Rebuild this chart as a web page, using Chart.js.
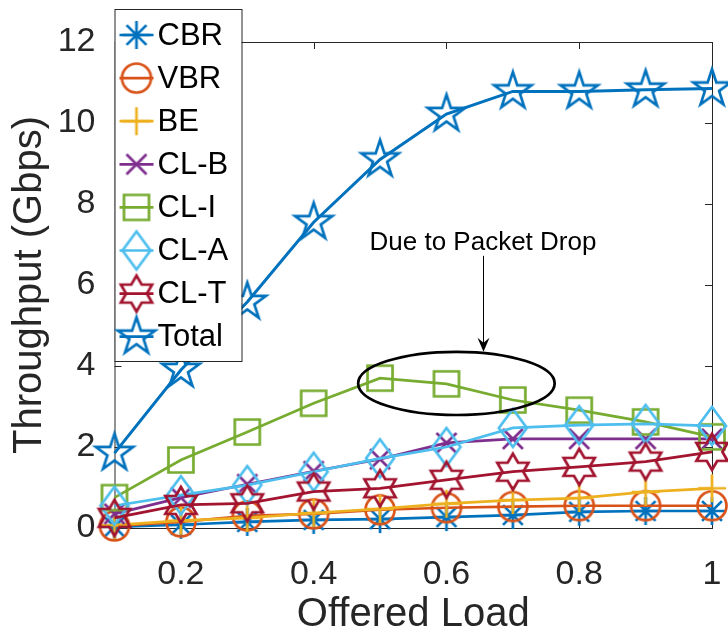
<!DOCTYPE html>
<html>
<head>
<meta charset="utf-8">
<script src="https://cdn.jsdelivr.net/npm/chart.js@4.4.1/dist/chart.umd.min.js"></script>
<style>
  html, body { margin: 0; padding: 0; background: #fff; }
</style>
</head>
<body>
<canvas id="chart" width="728" height="640"></canvas>
<script>
// offered load (x) and throughput per class in Gbps
const offeredLoad = [0.1, 0.2, 0.3, 0.4, 0.5, 0.6, 0.7, 0.8, 0.9, 1.0]
const cbr = [0.03, 0.08, 0.15, 0.2, 0.22, 0.27, 0.32, 0.4, 0.42, 0.42]
const vbr = [0.05, 0.15, 0.3, 0.35, 0.45, 0.5, 0.53, 0.55, 0.55, 0.55]
const be = [0.07, 0.18, 0.25, 0.37, 0.47, 0.6, 0.69, 0.74, 0.89, 0.98]
const clB = [0.35, 0.75, 1.08, 1.4, 1.7, 2.1, 2.2, 2.2, 2.2, 2.2]
const clI = [0.75, 1.68, 2.37, 3.08, 3.7, 3.56, 3.16, 2.91, 2.62, 2.25]
const clA = [0.55, 0.81, 1.06, 1.39, 1.72, 2.0, 2.47, 2.54, 2.57, 2.52]
const clT = [0.25, 0.57, 0.61, 0.9, 0.98, 1.19, 1.39, 1.51, 1.64, 1.88]
const total = [1.85, 3.9, 5.58, 7.55, 9.1, 10.22, 10.78, 10.78, 10.82, 10.85]

const seriesNames = ["CBR", "VBR", "BE", "CL-B", "CL-I", "CL-A", "CL-T", "Total"]
const xTicks = [0.2, 0.4, 0.6, 0.8, 1]
const yTicks = [0, 2, 4, 6, 8, 10, 12]

const FONT = "'Liberation Sans', Arial, Helvetica, sans-serif"
const AXIS_COLOR = "#262626"

// MATLAB style hollow markers drawn on small canvases
function marker(shape, color) {
  const size = 48
  const c = document.createElement("canvas")
  c.width = size
  c.height = size
  const g = c.getContext("2d")
  g.translate(size / 2, size / 2)
  g.strokeStyle = color
  g.lineWidth = 2.7
  g.lineJoin = "miter"
  g.beginPath()
  if (shape === "asterisk") {
    const r = 14
    for (let a = 0; a < 4; a++) {
      const t = a * Math.PI / 4
      g.moveTo(r * Math.cos(t), r * Math.sin(t))
      g.lineTo(-r * Math.cos(t), -r * Math.sin(t))
    }
  } else if (shape === "circle") {
    g.arc(0, 0, 14.5, 0, Math.PI * 2)
  } else if (shape === "plus") {
    g.moveTo(-14, 0); g.lineTo(14, 0)
    g.moveTo(0, -14); g.lineTo(0, 14)
  } else if (shape === "x") {
    const r = 10
    g.moveTo(-r, -r); g.lineTo(r, r)
    g.moveTo(r, -r); g.lineTo(-r, r)
  } else if (shape === "square") {
    g.rect(-12.5, -12.5, 25, 25)
  } else if (shape === "diamond") {
    g.moveTo(0, -19); g.lineTo(14, 0); g.lineTo(0, 19); g.lineTo(-14, 0); g.closePath()
  } else if (shape === "hexagram") {
    const R = 18, ri = R / Math.sqrt(3)
    for (let k = 0; k < 12; k++) {
      const rad = k % 2 === 0 ? R : ri
      const t = -Math.PI / 2 + k * Math.PI / 6
      if (k === 0) g.moveTo(rad * Math.cos(t), rad * Math.sin(t))
      else g.lineTo(rad * Math.cos(t), rad * Math.sin(t))
    }
    g.closePath()
  } else if (shape === "pentagram") {
    const R = 19.5, ri = R * 0.382
    for (let k = 0; k < 10; k++) {
      const rad = k % 2 === 0 ? R : ri
      const t = -Math.PI / 2 + k * Math.PI / 5
      if (k === 0) g.moveTo(rad * Math.cos(t), rad * Math.sin(t))
      else g.lineTo(rad * Math.cos(t), rad * Math.sin(t))
    }
    g.closePath()
  }
  g.stroke()
  return c
}

const colors = ["#0072BD", "#D95319", "#EDB120", "#7E2F8E", "#77AC30", "#4DBEEE", "#A2142F", "#0072BD"]
const shapes = ["asterisk", "circle", "plus", "x", "square", "diamond", "hexagram", "pentagram"]
const values = [cbr, vbr, be, clB, clI, clA, clT, total]
const markers = shapes.map((s, i) => marker(s, colors[i]))

const datasets = values.map((vals, i) => ({
  label: seriesNames[i],
  data: vals.map((v, j) => ({ x: offeredLoad[j], y: v })),
  borderColor: colors[i],
  borderWidth: i === 7 ? 3 : 2.7,
  pointStyle: markers[i],
  pointRadius: 10,
  fill: false,
  tension: 0,
  clip: false,
  order: values.length - i
}))

// annotation in data units
const noteText = "Due to Packet Drop"
const ellipseCenter = { x: 0.615, y: 3.57 }
const ellipseRadius = { x: 0.148, y: 0.78 }
const arrowX = 0.655, arrowFrom = 6.72, arrowTo = 4.35
const notePos = { x: 0.655, y: 7.05 }

const axesBox = {
  id: "axesBox",
  beforeDatasetsDraw(chart) {
    const { ctx, chartArea: a, scales } = chart
    ctx.save()
    ctx.strokeStyle = AXIS_COLOR
    ctx.lineWidth = 1
    ctx.strokeRect(a.left + 0.5, a.top + 0.5, a.right - a.left, a.bottom - a.top)
    ctx.beginPath()
    const tl = 7
    xTicks.forEach(v => {
      const px = Math.round(scales.x.getPixelForValue(v)) + 0.5
      ctx.moveTo(px, a.bottom); ctx.lineTo(px, a.bottom - tl)
      ctx.moveTo(px, a.top); ctx.lineTo(px, a.top + tl)
    })
    yTicks.forEach(v => {
      const py = Math.round(scales.y.getPixelForValue(v)) + 0.5
      ctx.moveTo(a.left, py); ctx.lineTo(a.left + tl, py)
      ctx.moveTo(a.right, py); ctx.lineTo(a.right - tl, py)
    })
    ctx.stroke()
    ctx.restore()
  }
}

const annotation = {
  id: "annotation",
  afterDatasetsDraw(chart) {
    const { ctx, scales } = chart
    const xs = scales.x, ys = scales.y
    ctx.save()
    // ellipse
    const cx = xs.getPixelForValue(ellipseCenter.x)
    const cy = ys.getPixelForValue(ellipseCenter.y)
    const rx = xs.getPixelForValue(ellipseCenter.x + ellipseRadius.x) - cx
    const ry = cy - ys.getPixelForValue(ellipseCenter.y + ellipseRadius.y)
    ctx.strokeStyle = "#000"
    ctx.lineWidth = 2.7
    ctx.beginPath()
    ctx.ellipse(cx, cy, rx, ry, 0, 0, Math.PI * 2)
    ctx.stroke()
    // arrow
    const ax = Math.round(xs.getPixelForValue(arrowX)) + 0.5
    const y0 = ys.getPixelForValue(arrowFrom)
    const y1 = ys.getPixelForValue(arrowTo)
    ctx.lineWidth = 1
    ctx.beginPath()
    ctx.moveTo(ax, y0)
    ctx.lineTo(ax, y1 - 4)
    ctx.stroke()
    ctx.fillStyle = "#000"
    ctx.beginPath()
    ctx.moveTo(ax, y1)
    ctx.lineTo(ax - 6, y1 - 14)
    ctx.lineTo(ax, y1 - 9)
    ctx.lineTo(ax + 6, y1 - 14)
    ctx.closePath()
    ctx.fill()
    // text
    ctx.font = "26px " + FONT
    ctx.fillStyle = "#000"
    ctx.textAlign = "center"
    ctx.textBaseline = "middle"
    ctx.fillText(noteText, xs.getPixelForValue(notePos.x), ys.getPixelForValue(notePos.y))
    ctx.restore()
  }
}

const boxLegend = {
  id: "boxLegend",
  afterDraw(chart) {
    const { ctx, chartArea: a } = chart
    const left = a.left, top = 9, width = 127, height = 352
    ctx.save()
    ctx.fillStyle = "#fff"
    ctx.fillRect(left, top, width, height)
    ctx.strokeStyle = AXIS_COLOR
    ctx.lineWidth = 1
    ctx.strokeRect(left + 0.5, top + 0.5, width, height)
    ctx.font = "31px " + FONT
    ctx.textBaseline = "middle"
    ctx.textAlign = "left"
    seriesNames.forEach((name, i) => {
      const y = 35 + i * 43.1
      ctx.strokeStyle = colors[i]
      ctx.lineWidth = 2.7
      ctx.beginPath()
      ctx.moveTo(left + 5, y)
      ctx.lineTo(left + 39, y)
      ctx.stroke()
      const m = markers[i]
      ctx.drawImage(m, left + 22 - m.width / 2, y - m.height / 2)
      ctx.fillStyle = "#000"
      ctx.fillText(name, left + 43, y + 1)
    })
    ctx.restore()
  }
}

new Chart(document.getElementById("chart"), {
  type: "line",
  data: { datasets: datasets },
  options: {
    responsive: false,
    animation: false,
    events: [],
    layout: { padding: { left: 0, right: 16, top: 42, bottom: 0 } },
    plugins: { legend: { display: false }, tooltip: { enabled: false } },
    scales: {
      x: {
        type: "linear",
        min: 0.1,
        max: 1,
        grid: { display: false },
        border: { display: false },
        afterBuildTicks: s => { s.ticks = xTicks.map(v => ({ value: v })) },
        afterFit: s => { s.height = 112; s.paddingLeft = 0; s.paddingRight = 0 },
        ticks: {
          padding: 18,
          color: AXIS_COLOR,
          maxRotation: 0,
          autoSkip: false,
          font: { family: FONT, size: 34 },
          callback: v => String(v)
        },
        title: {
          display: true,
          text: "Offered Load",
          color: AXIS_COLOR,
          font: { family: FONT, size: 40 },
          padding: { top: 0, bottom: 1 }
        }
      },
      y: {
        type: "linear",
        min: 0,
        max: 12,
        grid: { display: false },
        border: { display: false },
        afterBuildTicks: s => { s.ticks = yTicks.map(v => ({ value: v })) },
        afterFit: s => { s.width = 114.5; s.paddingTop = 0; s.paddingBottom = 0 },
        ticks: {
          padding: 11,
          color: AXIS_COLOR,
          font: { family: FONT, size: 34 },
          callback: v => String(v)
        },
        title: {
          display: true,
          text: "Throughput (Gbps)",
          color: AXIS_COLOR,
          font: { family: FONT, size: 40 },
          padding: { top: 6, bottom: 0 }
        }
      }
    }
  },
  plugins: [axesBox, annotation, boxLegend]
})
</script>
</body>
</html>
